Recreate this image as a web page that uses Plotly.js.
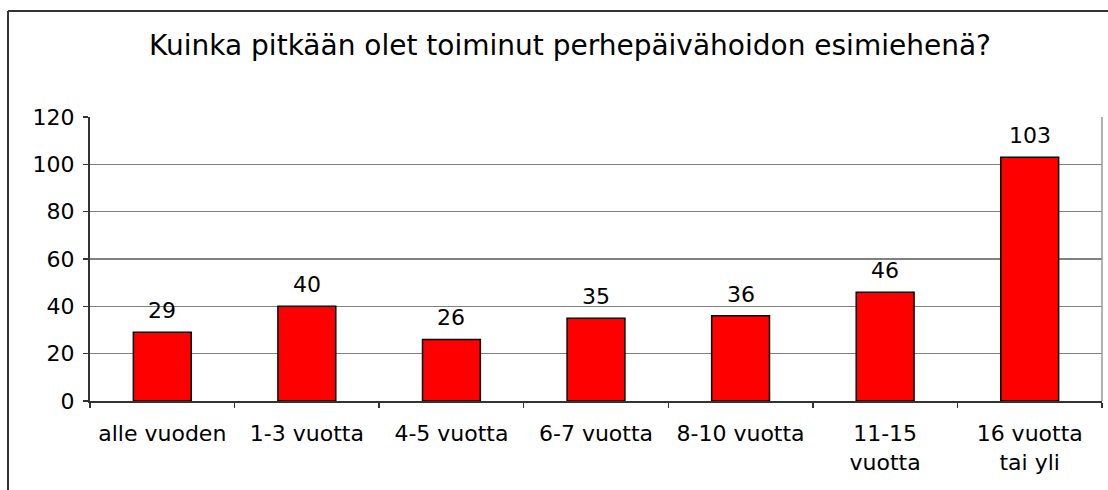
<!DOCTYPE html>
<html>
<head>
<meta charset="utf-8">
<script src="https://cdn.plot.ly/plotly-3.0.1.min.js"></script>
<style>
html,body{margin:0;padding:0;background:#fff;}
#chart{width:1108px;height:490px;}
</style>
</head>
<body>
<div id="chart"></div>
<script>
const categories = ["alle vuoden", "1-3 vuotta", "4-5 vuotta", "6-7 vuotta", "8-10 vuotta", "11-15<br>vuotta", "16 vuotta<br>tai yli"];
const values = [29, 40, 26, 35, 36, 46, 103];
const yTicks = [0, 20, 40, 60, 80, 100, 120];
const titleText = "Kuinka pitkään olet toiminut perhepäivähoidon esimiehenä?";

const font = "DejaVu Sans, Verdana, sans-serif";

const trace = {
  type: "bar",
  x: categories,
  y: values,
  marker: {color: "#ff0000", line: {color: "#000", width: 1.5}},
  hoverinfo: "none"
};

const labels = categories.map((c, i) => ({
  x: c, y: values[i], xref: "x", yref: "y",
  text: String(values[i]), showarrow: false,
  yanchor: "bottom", yshift: 7,
  font: {family: font, size: 22, color: "#000"}
}));

const layout = {
  width: 1108,
  height: 490,
  margin: {l: 90, r: 6, t: 117, b: 89},
  paper_bgcolor: "#fff",
  plot_bgcolor: "#fff",
  showlegend: false,
  bargap: 0.6,
  title: {
    text: titleText,
    font: {family: font, size: 28, color: "#000"},
    x: 570 / 1108, xref: "container", xanchor: "center",
    y: 1 - 45 / 490, yref: "container", yanchor: "middle"
  },
  xaxis: {
    type: "category",
    tickson: "boundaries",
    ticks: "outside",
    ticklen: 5,
    tickwidth: 1.5,
    tickcolor: "#333",
    ticklabelstandoff: 12,
    showline: true,
    linecolor: "#333",
    linewidth: 2,
    showgrid: false,
    tickfont: {family: font, size: 22, color: "#000"},
    automargin: false
  },
  yaxis: {
    range: [0, 120],
    tickvals: yTicks,
    ticktext: yTicks.map(String),
    ticks: "outside",
    ticklen: 5,
    tickwidth: 1.5,
    tickcolor: "#333",
    ticklabelstandoff: 4,
    showline: true,
    linecolor: "#333",
    linewidth: 2,
    showgrid: true,
    gridcolor: "#808080",
    gridwidth: 1.5,
    zeroline: false,
    tickfont: {family: font, size: 22, color: "#000"},
    automargin: false
  },
  annotations: labels,
  shapes: [
    {type: "line", xref: "paper", yref: "paper", x0: 1, x1: 1, y0: 0, y1: 1,
     line: {color: "#999", width: 1.5}},
    {type: "line", xref: "paper", yref: "paper", x0: (8 - 90) / 1012, x1: (8 - 90) / 1012, y0: -1, y1: (401 - 11) / 284,
     line: {color: "#333", width: 2}},
    {type: "line", xref: "paper", yref: "paper", x0: (8 - 90) / 1012, x1: 1.2, y0: (401 - 11) / 284, y1: (401 - 11) / 284,
     line: {color: "#333", width: 2}}
  ]
};

Plotly.newPlot("chart", [trace], layout, {displayModeBar: false, staticPlot: true});
</script>
</body>
</html>
